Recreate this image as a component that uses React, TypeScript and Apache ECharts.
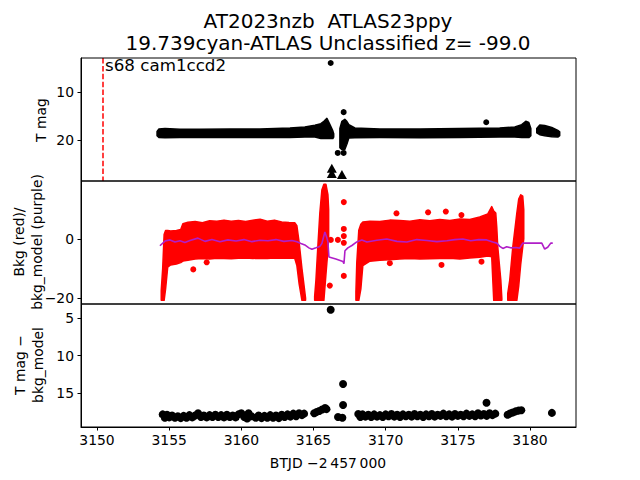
import React, { useEffect, useRef } from 'react';
import * as echarts from 'echarts';

const X_MIN = 3148.89;
const X_MAX = 3183.19;
const xTicks = [3150, 3155, 3160, 3165, 3170, 3175, 3180];
const tmagTicks = [10, 20];
const bkgTicks = [-20, 0];
const diffTicks = [5, 10, 15];
const sectorLineT = 3150.42;

// Panel 1: T mag dense band envelopes [t, bright edge, faint edge]
const tmagBandA = [
  [3154.16, 18.2, 19.1], [3154.29, 17.7, 19.5], [3154.71, 17.6, 19.55], [3155.75, 17.75, 19.5],
  [3157.13, 17.75, 19.5], [3159.21, 17.7, 19.5], [3161.29, 17.7, 19.5], [3163.37, 17.5, 19.5],
  [3164.4, 17.3, 19.4], [3165.1, 16.9, 19.4], [3165.51, 16.6, 19.7], [3165.72, 16.1, 19.7],
  [3165.93, 15.5, 19.7], [3166.14, 16.8, 19.7], [3166.34, 18.1, 19.7], [3166.4, 18.7, 19.4],
];
const tmagBandB = [
  [3166.83, 17.6, 21.6], [3166.97, 16.1, 22.0], [3167.17, 15.7, 22.0], [3167.31, 16.1, 20.9],
  [3167.45, 16.8, 19.6], [3167.87, 17.5, 19.55], [3169.6, 17.7, 19.5], [3172.4, 17.7, 19.55],
  [3175.1, 17.6, 19.5], [3177.9, 17.5, 19.4], [3178.95, 17.3, 19.4], [3179.43, 16.8, 19.5],
  [3179.71, 16.1, 19.5], [3179.92, 16.35, 19.5], [3180.06, 17.6, 19.1],
];
const tmagBandC = [
  [3180.47, 17.6, 18.5], [3180.68, 16.9, 18.9], [3181.02, 17.0, 19.1], [3181.51, 17.4, 19.3],
  [3181.93, 18.0, 19.4], [3182.06, 18.3, 19.1],
];
const tmagDots = [[3166.19, 3.96], [3167.09, 14.2], [3176.97, 16.3], [3166.68, 22.7], [3167.09, 22.7]];
const tmagLimits = [[3166.27, 25.9], [3166.27, 27.0], [3166.97, 27.2]];

// Panel 2: background flux envelopes [t, upper, lower]
const bkgBandA = [
  [3154.45, -17.5, -20.8], [3154.55, -10, -20.8], [3154.65, 1.5, -20.8], [3154.75, 2.9, -17],
  [3154.9, 2.9, -9.5], [3155.1, 2.7, -8.8], [3155.5, 2.9, -8.5], [3155.8, 3.2, -8.0],
  [3155.95, 5.2, -7.5], [3156.3, 5.7, -7.2], [3156.8, 5.9, -6.8], [3157.3, 5.5, -6.6],
  [3157.8, 6.2, -6.8], [3158.3, 6.0, -6.5], [3158.8, 6.4, -6.6], [3159.3, 6.0, -6.7],
  [3159.8, 6.3, -6.5], [3160.3, 5.9, -6.4], [3160.8, 6.4, -6.6], [3161.3, 6.7, -6.5],
  [3161.8, 6.0, -6.6], [3162.3, 6.4, -6.4], [3162.8, 5.8, -6.5], [3163.3, 5.6, -6.4],
  [3163.7, 5.5, -6.5], [3163.85, 4.5, -9], [3164.0, -1, -15], [3164.2, -10, -20.8],
  [3164.35, -16, -20.8], [3164.45, -20, -20.8],
];
const bkgSpikeA = [
  [3165.08, -19.5, -20.8], [3165.17, -13.9, -20.8], [3165.3, -2.7, -20.8], [3165.44, 8.8, -20.8],
  [3165.58, 16.6, -20.8], [3165.72, 18.6, -20.8], [3165.86, 18.6, -12.2], [3166.0, 15.0, -3.7],
  [3166.05, 10, 0],
];
const bkgBandB = [
  [3167.94, -18, -20.8], [3168.0, -8, -20.8], [3168.14, 3.0, -20.8], [3168.28, 5.0, -17],
  [3168.42, 5.8, -9.0], [3168.91, 6.0, -7.5], [3169.6, 5.9, -7.2], [3170.29, 6.4, -7.0],
  [3170.98, 6.3, -6.8], [3171.68, 6.0, -6.6], [3172.37, 6.5, -6.8], [3173.06, 6.2, -6.7],
  [3173.75, 6.6, -6.6], [3174.45, 6.3, -6.5], [3175.14, 6.8, -6.8], [3175.83, 6.6, -6.4],
  [3176.52, 7.5, -6.2], [3177.08, 8.5, -5.8], [3177.35, 11.0, -6.0], [3177.49, 9.5, -20.8],
  [3177.63, 8.8, -20.8], [3177.7, 4, -20.8], [3177.77, -2.7, -20.8], [3177.98, -13.9, -20.8],
  [3178.05, -20.0, -20.8],
];
const bkgSpikeB = [
  [3178.46, -18.5, -20.8], [3178.6, -13.9, -20.8], [3178.81, -2.7, -20.8], [3179.09, 8.8, -20.8],
  [3179.22, 13.5, -16], [3179.36, 15.0, -8.5], [3179.5, 14.5, -2.7], [3179.57, 10, 0],
];
const bkgDots = [
  [3156.67, -10.3], [3157.6, -7.9], [3166.2, -0.3], [3166.69, -0.3], [3167.1, 12.5], [3167.1, 3.4],
  [3167.1, 1.0], [3167.1, -1.3], [3167.1, -12.5], [3166.13, -15.8], [3170.75, 8.7], [3172.94, 9.05],
  [3174.17, 9.3], [3175.25, 8.1], [3170.29, -8.2], [3173.87, -8.8], [3176.64, -7.7],
];
const bkgModel = [
  [3154.36, -2.3], [3154.71, -0.7], [3155.06, -0.3], [3155.4, -1.0], [3155.75, -0.6], [3156.09, -1.2],
  [3156.44, -0.5], [3156.99, 0.3], [3157.48, -0.8], [3157.96, -0.2], [3158.52, -0.9], [3159.07, -0.3],
  [3159.63, -0.7], [3160.18, -0.2], [3160.73, -0.9], [3161.29, -0.4], [3161.84, -0.6], [3162.4, -0.2],
  [3162.95, -0.8], [3163.5, -0.5], [3163.85, -0.9], [3164.13, -1.5], [3164.4, -2.0], [3164.68, -3.0],
  [3164.89, -3.5], [3165.17, -3.0], [3165.44, -2.5], [3165.58, -1.5], [3165.79, 2.4], [3165.93, 0.3],
  [3166.0, -1.0], [3166.07, -6.1], [3166.55, -6.8], [3167.04, -7.6], [3167.11, -8.4], [3167.18, -4.0],
  [3167.38, -3.0], [3167.66, -2.2], [3168.0, -1.0], [3168.35, -0.3], [3168.7, -1.0], [3169.39, -0.4],
  [3170.08, 0.0], [3170.78, -0.8], [3171.47, -1.0], [3172.16, -0.2], [3172.85, -0.5], [3173.55, -0.9],
  [3174.24, -0.6], [3174.79, -0.2], [3175.35, 0.0], [3175.9, -0.6], [3176.45, -0.2], [3177.0, -0.3],
  [3177.42, -1.0], [3177.7, -1.4], [3177.91, -2.5], [3178.12, -3.2], [3178.39, -2.6], [3178.67, -3.0],
  [3179.02, -2.9], [3179.29, -3.1], [3179.5, -1.4], [3180.82, -1.4], [3181.02, -3.4], [3181.23, -2.8],
  [3181.44, -1.4], [3181.58, -1.4],
];

// Panel 3: T mag - bkg_model
const diffT = [
  3154.55, 3154.7, 3154.85, 3155.0, 3155.2, 3155.4, 3155.6, 3155.8, 3156.0, 3156.2, 3156.4, 3156.6,
  3156.8, 3157.0, 3157.2, 3157.4, 3157.6, 3157.8, 3158.0, 3158.2, 3158.4, 3158.6, 3158.8, 3159.0,
  3159.2, 3159.4, 3159.6, 3159.8, 3160.0, 3160.2, 3160.4, 3160.5, 3160.7, 3161.0, 3161.2, 3161.4,
  3161.6, 3161.8, 3162.0, 3162.2, 3162.4, 3162.6, 3162.8, 3163.0, 3163.2, 3163.4, 3163.6, 3163.8,
  3164.0, 3164.2, 3164.35,
  3165.05, 3165.2, 3165.4, 3165.6, 3165.8, 3165.9,
  3166.19, 3167.05, 3167.05, 3166.7, 3167.0,
  3168.1, 3168.25, 3168.4, 3168.6, 3168.8, 3169.0, 3169.2, 3169.4, 3169.6, 3169.8, 3170.0, 3170.2,
  3170.4, 3170.6, 3170.8, 3171.0, 3171.2, 3171.4, 3171.6, 3171.8, 3172.0, 3172.2, 3172.4, 3172.6,
  3172.8, 3173.0, 3173.2, 3173.4, 3173.6, 3173.8, 3174.0, 3174.2, 3174.4, 3174.6, 3174.8, 3175.0,
  3175.2, 3175.4, 3175.6, 3175.8, 3176.0, 3176.2, 3176.4, 3176.6, 3176.8, 3176.99, 3177.0, 3177.2,
  3177.4, 3177.6,
  3178.45, 3178.6, 3178.8, 3179.0, 3179.2, 3179.4,
  3181.52,
];
const diffMag = [
  17.85, 18.3, 17.9, 18.25, 18.0, 18.3, 18.1, 18.35, 18.05, 18.3, 17.95, 18.25,
  18.0, 17.7, 18.2, 18.0, 18.25, 17.95, 18.2, 17.9, 18.2, 17.95, 18.25, 17.9,
  18.2, 18.0, 18.25, 17.85, 17.7, 18.2, 18.4, 17.7, 18.1, 18.3, 18.0, 18.35,
  18.05, 18.3, 17.95, 18.3, 18.0, 18.35, 17.9, 18.2, 17.85, 18.15, 17.75, 18.1,
  17.7, 17.95, 17.75,
  17.7, 17.55, 17.4, 17.2, 17.0, 17.15,
  3.9, 13.8, 16.6, 18.2, 18.3,
  17.8, 18.2, 17.85, 18.15, 17.9, 18.2, 17.85, 18.15, 17.95, 18.2, 17.85, 18.1,
  17.8, 18.15, 17.9, 18.2, 17.85, 18.1, 17.9, 18.15, 17.8, 18.1, 17.9, 18.2,
  17.85, 18.1, 17.8, 18.15, 17.9, 18.05, 17.75, 18.1, 17.85, 18.15, 17.8, 18.05,
  17.9, 18.1, 17.75, 18.05, 17.85, 18.1, 17.7, 18.0, 17.8, 16.3, 18.05, 17.7,
  17.95, 17.75,
  17.9, 17.75, 17.6, 17.45, 17.35, 17.3,
  17.65,
];

const FONT = 'DejaVu Sans';
const fmtMinus = (v: number) => (v < 0 ? '\u2212' + Math.abs(v) : String(v));

function bandSeries(env: number[][], idx: number, color: string) {
  return {
    type: 'custom',
    xAxisIndex: idx,
    yAxisIndex: idx,
    data: env,
    encode: { x: 0, y: [1, 2] },
    clip: true,
    z: 2,
    renderItem: (params: any, api: any) => {
      if (params.dataIndex !== 0) return null;
      const top = env.map((d) => api.coord([d[0], d[1]]));
      const bot = env.slice().reverse().map((d) => api.coord([d[0], d[2]]));
      return {
        type: 'polygon',
        shape: { points: top.concat(bot) },
        style: { fill: color, stroke: color, lineWidth: 1.5, lineJoin: 'round' },
      };
    },
  };
}

function txt(text: string, x: number, y: number, size: number, rot = 0, align = 'center') {
  return {
    type: 'text',
    x,
    y,
    rotation: rot,
    z: 100,
    style: {
      text,
      fill: '#000',
      fontSize: size,
      fontFamily: FONT,
      align,
      textAlign: align,
      verticalAlign: 'middle',
      textVerticalAlign: 'middle',
    },
  };
}

export default function App() {
  const ref = useRef<HTMLDivElement>(null);
  useEffect(() => {
    if (!ref.current) return;
    const chart = echarts.init(ref.current, undefined, { renderer: 'svg' });
    const grids = [58, 181, 304].map((top) => ({
      left: 81,
      top,
      width: 495,
      height: 123,
      show: true,
      borderColor: '#000',
      borderWidth: 1,
      backgroundColor: 'transparent',
      z: 10,
    }));
    const xAxes = [0, 1, 2].map((i) => ({
      type: 'value',
      gridIndex: i,
      min: X_MIN,
      max: X_MAX,
      splitLine: { show: false },
      axisLine: { show: i === 2, lineStyle: { color: '#000', width: 1 } },
      axisTick: { show: i === 2, customValues: xTicks, length: 3.5, lineStyle: { color: '#000', width: 1 } },
      axisLabel: {
        show: i === 2,
        customValues: xTicks,
        margin: 6,
        color: '#000',
        fontSize: 13.9,
        fontFamily: FONT,
        formatter: (v: number) => String(v),
      },
    }));
    const yDefs = [
      { min: 2.92, max: 28.54, inverse: true, ticks: tmagTicks },
      { min: -22.03, max: 19.66, inverse: false, ticks: bkgTicks },
      { min: 3.13, max: 19.53, inverse: true, ticks: diffTicks },
    ];
    const yAxes = yDefs.map((d, i) => ({
      type: 'value',
      gridIndex: i,
      min: d.min,
      max: d.max,
      inverse: d.inverse,
      splitLine: { show: false },
      axisLine: { show: true, lineStyle: { color: '#000', width: 1 } },
      axisTick: { show: true, customValues: d.ticks, length: 3.5, lineStyle: { color: '#000', width: 1 } },
      axisLabel: {
        show: true,
        customValues: d.ticks,
        margin: 7,
        color: '#000',
        fontSize: 13.9,
        fontFamily: FONT,
        formatter: (v: number) => fmtMinus(v),
      },
    }));

    const option: any = {
      animation: false,
      backgroundColor: '#fff',
      grid: grids,
      xAxis: xAxes,
      yAxis: yAxes,
      series: [
        bandSeries(tmagBandA, 0, '#000'),
        bandSeries(tmagBandB, 0, '#000'),
        bandSeries(tmagBandC, 0, '#000'),
        {
          type: 'scatter',
          xAxisIndex: 0,
          yAxisIndex: 0,
          data: tmagDots,
          symbol: 'circle',
          symbolSize: 6,
          itemStyle: { color: '#000', opacity: 1 },
          z: 3,
          markLine: {
            silent: true,
            symbol: 'none',
            label: { show: false },
            lineStyle: { color: '#ff0000', width: 1.5, type: [5.5, 2.4] },
            data: [{ xAxis: sectorLineT }],
          },
        },
        {
          type: 'scatter',
          xAxisIndex: 0,
          yAxisIndex: 0,
          data: tmagLimits,
          symbol: 'triangle',
          symbolSize: [10, 9],
          itemStyle: { color: '#000', opacity: 1 },
          z: 3,
        },
        bandSeries(bkgBandA, 1, '#ff0000'),
        bandSeries(bkgSpikeA, 1, '#ff0000'),
        bandSeries(bkgBandB, 1, '#ff0000'),
        bandSeries(bkgSpikeB, 1, '#ff0000'),
        {
          type: 'scatter',
          xAxisIndex: 1,
          yAxisIndex: 1,
          data: bkgDots,
          symbolSize: 6,
          itemStyle: { color: '#ff0000', opacity: 1 },
          z: 3,
        },
        {
          type: 'line',
          xAxisIndex: 1,
          yAxisIndex: 1,
          data: bkgModel,
          showSymbol: false,
          lineStyle: { color: '#b01ec8', width: 1.6 },
          z: 5,
        },
        {
          type: 'scatter',
          xAxisIndex: 2,
          yAxisIndex: 2,
          data: diffT.map((t, i) => [t, diffMag[i]]),
          symbolSize: 8,
          itemStyle: { color: '#000', opacity: 1 },
          z: 3,
        },
      ],
      graphic: {
        elements: [
          txt('AT2023nzb  ATLAS23ppy', 328, 21, 20),
          txt('19.739cyan-ATLAS Unclassified z= -99.0', 328, 43, 20),
          txt('s68 cam1ccd2', 105, 65, 16.7, 0, 'left'),
          txt('T mag', 41, 120, 13.9, Math.PI / 2),
          txt('Bkg (red)/', 19, 242, 13.9, Math.PI / 2),
          txt('bkg_model (purple)', 37, 242, 13.9, Math.PI / 2),
          txt('T mag \u2212', 20, 365, 13.9, Math.PI / 2),
          txt('bkg_model', 38, 365, 13.9, Math.PI / 2),
          txt('BTJD \u22122\u2009457\u2009000', 328, 463, 13.9),
        ],
      },
    };
    chart.setOption(option);
    return () => chart.dispose();
  }, []);
  return (
    <div
      ref={ref}
      style={{ position: 'fixed', left: 0, top: 0, width: 640, height: 480, background: '#fff' }}
    />
  );
}
